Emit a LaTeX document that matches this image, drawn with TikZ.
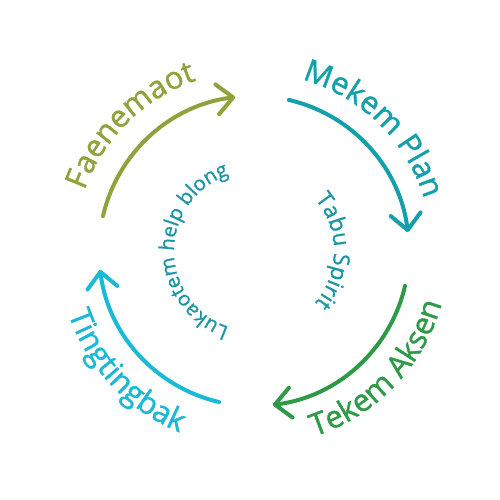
\documentclass[tikz,border=0pt]{standalone}
\usepackage{fontspec}
\setmainfont{Open Sans}
\newfontfamily\cycFam[FakeBold=1.2]{Open Sans}
\newfontfamily\cycFamIn[FakeBold=0.8]{Open Sans}
\usetikzlibrary{arrows.meta,decorations.text}
\definecolor{cOlive}{HTML}{8FA33B}
\definecolor{cTeal}{HTML}{14A0AA}
\definecolor{cGreen}{HTML}{2E9A48}
\definecolor{cCyan}{HTML}{1AB9D8}
\definecolor{cInner}{HTML}{1996A5}
\newcommand\cycOut{\cycFam\fontsize{17.6pt}{20pt}\selectfont}
\newcommand\cycIn{\cycFamIn\fontsize{11.6pt}{14pt}\selectfont}
\newcommand\cycInR{\cycFamIn\fontsize{12.8pt}{15pt}\selectfont}
\begin{document}
\begin{tikzpicture}[
  cyc/.style={line width=0.08cm, line cap=round, -{Straight Barb[length=0.32cm,width=0.6cm,round]}},
]
\fill[white] (0,0) rectangle (10,10);
\useasboundingbox (0,0) rectangle (10,10);
\coordinate (C) at (5.08,4.98);
% arc start points
\coordinate (s1) at ([shift={(167:3.1)}]C);
\coordinate (s2) at ([shift={(77:3.1)}]C);
\coordinate (s3) at ([shift={(-13:3.1)}]C);
\coordinate (s4) at ([shift={(-103:3.1)}]C);
% arrows
\draw[cyc, cOlive] (s1) arc[start angle=167, end angle=97, radius=3.1];
\draw[cyc, cTeal]  (s2) arc[start angle=77, end angle=7, radius=3.1];
\draw[cyc, cGreen] (s3) arc[start angle=-13, end angle=-83, radius=3.1];
\draw[cyc, cCyan]  (s4) arc[start angle=-103, end angle=-173, radius=3.1];
% text paths
\coordinate (t1) at ([shift={(174.5:3.6)}]C);
\coordinate (t2) at ([shift={(85.7:3.56)}]C);
\coordinate (t3) at ([shift={(-83.8:3.9)}]C);
\coordinate (t4) at ([shift={(183.2:3.92)}]C);
\coordinate (t5) at ([shift={(270:1.6)}]C);
\coordinate (t6) at ([shift={(80:1.6)}]C);
\path[decorate, decoration={text along path, text align=center,
  text={|\cycOut\color{cOlive}|Faenemaot}}]
  (t1) arc[start angle=174.5, end angle=94.5, radius=3.6];
\path[decorate, decoration={text along path, text align=center,
  text={|\cycOut\color{cTeal}|Mekem Plan}}]
  (t2) arc[start angle=85.7, end angle=5.7, radius=3.56];
\path[decorate, decoration={text along path, text align=center,
  text={|\cycOut\color{cGreen}|Tekem Aksen}}]
  (t3) arc[start angle=-83.8, end angle=-3.8, radius=3.9];
\path[decorate, decoration={text along path, text align=center,
  text={|\cycOut\color{cCyan}|Tingtingbak}}]
  (t4) arc[start angle=183.2, end angle=263.2, radius=3.92];
\path[decorate, decoration={text along path, text align=center,
  text={|\cycIn\color{cInner}|Lukaotem help blong}}]
  (t5) arc[start angle=270, end angle=90, radius=1.6];
\path[decorate, decoration={text along path, text align=center,
  text={|\cycInR\color{cInner}|Tabu Spirit}}]
  (t6) arc[start angle=80, end angle=-80, radius=1.6];
\end{tikzpicture}
\end{document}
